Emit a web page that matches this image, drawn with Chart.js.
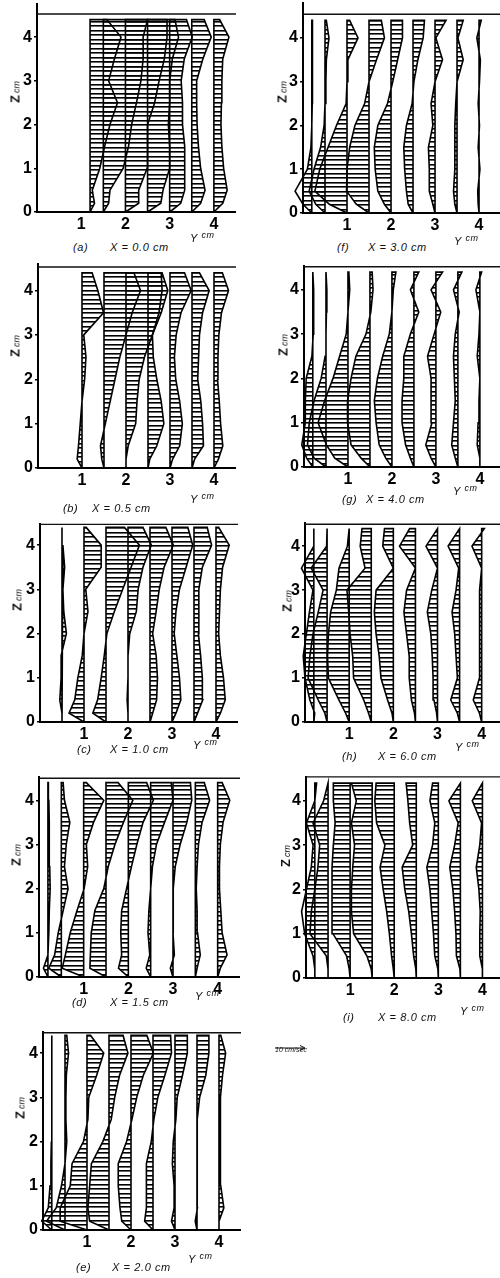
<!DOCTYPE html>
<html><head><meta charset="utf-8">
<script src="https://cdn.jsdelivr.net/npm/chart.js@4.4.1/dist/chart.umd.min.js"></script>
<style>
html,body{margin:0;padding:0;background:#fff;}
body{width:500px;height:1278px;position:relative;overflow:hidden;font-family:'Liberation Sans',Arial,sans-serif;}
canvas{position:absolute;}
.cap{position:absolute;font-style:italic;font-size:11px;color:#111;white-space:nowrap;letter-spacing:0.6px;transform:translateY(-50%);}
.zl{position:absolute;white-space:nowrap;transform:translate(-50%,-50%) rotate(-90deg);color:#111;font-weight:bold;font-size:13px;}
.zl small{font-size:9px;font-weight:normal;font-style:italic;margin-left:2px;}
.leg{position:absolute;font-style:italic;font-size:7px;color:#111;white-space:nowrap;}
</style></head><body>
<script>
// ---- data ----
const zLevels = [0, 0.2, 0.5, 1, 1.5, 2, 2.5, 3, 3.5, 4, 4.4];
const yTicks = [0, 1, 2, 3, 4];
const xTicks = [1, 2, 3, 4];

const stationsA = [1.2, 1.5, 2, 2.5, 3, 3.5, 4];
const uA = [
 [0, 0.10, 0.05, 0.22, 0.33, 0.45, 0.62, 0.42, 0.55, 0.70, 0.38],
 [0, 0.12, 0.15, 0.45, 0.57, 0.64, 0.75, 0.85, 0.90, 0.90, 1.00],
 [0, 0.30, 0.30, 0.49, 0.50, 0.50, 0.66, 0.76, 0.88, 0.94, 0.94],
 [0, 0.30, 0.35, 0.50, 0.50, 0.47, 0.50, 0.50, 0.56, 0.70, 0.62],
 [0, 0.25, 0.34, 0.34, 0.34, 0.29, 0.29, 0.26, 0.33, 0.51, 0.38],
 [0, 0.20, 0.30, 0.20, 0.15, 0.12, 0.11, 0.11, 0.25, 0.44, 0.28],
 [0, 0.20, 0.30, 0.22, 0.18, 0.16, 0.17, 0.18, 0.20, 0.34, 0.13]];

const stationsB = [1, 1.5, 2, 2.5, 3, 3.5, 4];
const uB = [
 [0, -0.11, -0.08, -0.04, 0.00, 0.06, 0.09, 0.04, 0.49, 0.36, 0.23],
 [0, -0.05, -0.08, 0.03, 0.14, 0.25, 0.36, 0.50, 0.64, 0.83, 0.68],
 [0, 0.00, 0.05, 0.22, 0.25, 0.30, 0.42, 0.60, 0.75, 0.82, 0.80],
 [0, 0.04, 0.20, 0.36, 0.30, 0.20, 0.12, 0.10, 0.30, 0.45, 0.32],
 [0, 0.06, 0.22, 0.28, 0.22, 0.13, 0.10, 0.14, 0.25, 0.48, 0.33],
 [0, 0.06, 0.26, 0.24, 0.20, 0.13, 0.15, 0.17, 0.24, 0.39, 0.17],
 [0, 0.10, 0.20, 0.15, 0.12, 0.08, 0.09, 0.11, 0.17, 0.33, 0.19]];

const stationsC = [0.5, 1, 1.5, 2, 2.5, 3, 3.5, 4];
const uC = [
 [0, 0.00, -0.05, -0.02, -0.02, 0.10, 0.04, 0.02, 0.06, 0.02, 0.00],
 [0, -0.34, -0.21, -0.14, -0.04, 0.00, 0.09, 0.04, 0.39, 0.39, 0.05],
 [0, -0.30, -0.19, -0.11, -0.04, 0.02, 0.19, 0.38, 0.57, 0.76, 0.42],
 [0, 0.00, -0.02, 0.00, 0.00, 0.04, 0.19, 0.23, 0.34, 0.53, 0.34],
 [0, 0.06, 0.15, 0.17, 0.14, 0.06, 0.14, 0.21, 0.32, 0.53, 0.36],
 [0, 0.09, 0.20, 0.17, 0.11, 0.05, 0.09, 0.17, 0.32, 0.47, 0.36],
 [0, 0.08, 0.20, 0.19, 0.15, 0.10, 0.11, 0.11, 0.19, 0.40, 0.30],
 [0, 0.10, 0.21, 0.17, 0.10, 0.06, 0.08, 0.10, 0.15, 0.30, 0.06]];

const stationsD = [0.2, 0.5, 1, 1.5, 2, 2.5, 3, 3.5, 4];
const uD = [
 [0, -0.10, 0.00, 0.02, 0.03, 0.05, 0.04, 0.03, 0.03, 0.02, 0.01],
 [0, -0.28, -0.15, -0.07, 0.04, 0.15, 0.07, 0.11, 0.19, 0.07, 0.04],
 [0, -0.48, -0.41, -0.30, -0.15, 0.01, 0.09, 0.06, 0.22, 0.45, 0.06],
 [0, -0.36, -0.35, -0.33, -0.25, -0.05, 0.05, 0.20, 0.39, 0.60, 0.27],
 [0, -0.22, -0.15, -0.17, -0.15, -0.04, 0.07, 0.19, 0.33, 0.56, 0.41],
 [0, -0.10, -0.02, -0.06, -0.04, 0.00, 0.04, 0.13, 0.31, 0.50, 0.46],
 [0, -0.06, 0.03, 0.00, 0.00, 0.01, 0.05, 0.16, 0.31, 0.42, 0.39],
 [0, 0.04, 0.11, 0.05, 0.04, 0.02, 0.04, 0.07, 0.15, 0.32, 0.20],
 [0, 0.06, 0.21, 0.10, 0.07, 0.04, 0.04, 0.06, 0.12, 0.27, 0.10]];

const stationsE = [0.2, 0.5, 1, 1.5, 2, 2.5, 3, 3.5, 4];
const uE = [
 [0, -0.23, -0.08, -0.04, -0.02, -0.01, 0.00, 0.00, 0.00, 0.00, 0.00],
 [0, -0.42, -0.20, -0.08, 0.00, 0.04, 0.02, 0.02, 0.03, 0.08, 0.04],
 [0, -0.61, -0.61, -0.38, -0.34, -0.08, 0.02, 0.04, 0.22, 0.38, 0.08],
 [0, -0.44, -0.48, -0.44, -0.40, -0.14, 0.05, 0.13, 0.24, 0.43, 0.32],
 [0, -0.21, -0.25, -0.29, -0.29, -0.10, 0.02, 0.13, 0.28, 0.51, 0.36],
 [0, -0.19, -0.15, -0.15, -0.15, -0.04, 0.02, 0.11, 0.27, 0.42, 0.40],
 [0, -0.08, -0.02, -0.02, -0.06, -0.04, 0.02, 0.05, 0.17, 0.28, 0.28],
 [0, -0.04, 0.01, 0.00, 0.00, 0.00, 0.02, 0.06, 0.20, 0.27, 0.27],
 [0, 0.00, 0.11, 0.04, 0.03, 0.03, 0.03, 0.04, 0.08, 0.15, 0.04]];

const stationsF = [0.2, 0.5, 1, 1.5, 2, 2.5, 3, 3.5, 4];
const uF = [
 [0, -0.20, -0.38, -0.10, -0.02, 0.00, 0.01, 0.01, 0.01, 0.02, 0.02],
 [0, -0.21, -0.36, -0.25, -0.10, -0.02, 0.00, 0.02, 0.03, 0.09, 0.03],
 [0, -0.40, -0.73, -0.62, -0.43, -0.24, -0.02, 0.00, 0.02, 0.25, 0.06],
 [0, -0.29, -0.51, -0.50, -0.44, -0.32, -0.10, 0.00, 0.17, 0.35, 0.28],
 [0, -0.15, -0.30, -0.36, -0.38, -0.30, -0.08, 0.04, 0.15, 0.26, 0.26],
 [0, -0.11, -0.15, -0.19, -0.21, -0.15, -0.02, 0.02, 0.11, 0.23, 0.26],
 [0, -0.05, -0.13, -0.13, -0.15, -0.05, -0.09, 0.00, 0.17, 0.02, 0.25],
 [0, -0.05, -0.08, -0.05, -0.05, -0.05, -0.03, 0.00, 0.14, 0.02, 0.14],
 [0, -0.02, -0.03, 0.02, -0.02, 0.01, -0.02, 0.01, 0.03, -0.05, 0.05]];

const stationsG = [0.2, 0.5, 1, 1.5, 2, 2.5, 3, 3.5, 4];
const uG = [
 [0, -0.14, -0.25, -0.17, -0.17, -0.15, -0.02, 0.01, 0.02, 0.02, 0.00],
 [0, -0.27, -0.42, -0.38, -0.27, -0.11, -0.02, 0.00, 0.01, 0.02, 0.00],
 [0, -0.30, -0.49, -0.68, -0.53, -0.34, -0.19, -0.04, 0.00, 0.04, 0.02],
 [0, -0.20, -0.43, -0.51, -0.51, -0.43, -0.32, -0.09, 0.02, 0.07, 0.05],
 [0, -0.14, -0.29, -0.36, -0.40, -0.33, -0.21, -0.06, 0.00, 0.03, 0.09],
 [0, -0.08, -0.19, -0.27, -0.27, -0.23, -0.23, -0.08, 0.11, -0.08, 0.11],
 [0, -0.11, -0.23, -0.09, -0.11, -0.11, -0.19, -0.04, 0.11, -0.11, 0.15],
 [0, -0.06, -0.14, -0.10, -0.06, -0.08, -0.10, -0.06, 0.03, -0.10, 0.09],
 [0, 0.00, -0.06, -0.04, -0.02, 0.00, -0.06, -0.02, 0.00, -0.09, 0.04]];

const stationsH = [0.2, 0.5, 1, 1.5, 2, 2.5, 3, 3.5, 4];
const uH = [
 [0, 0.02, -0.09, -0.20, -0.24, -0.17, -0.10, -0.02, -0.28, 0.00, 0.00],
 [0, -0.05, -0.20, -0.43, -0.39, -0.32, -0.20, -0.09, -0.36, -0.01, 0.00],
 [0, -0.08, -0.23, -0.47, -0.49, -0.47, -0.42, -0.29, -0.23, -0.04, 0.00],
 [0, -0.06, -0.17, -0.40, -0.42, -0.48, -0.51, -0.55, -0.14, -0.25, -0.21],
 [0, -0.03, -0.13, -0.28, -0.32, -0.39, -0.43, -0.39, 0.00, -0.24, -0.20],
 [0, -0.02, -0.09, -0.14, -0.14, -0.20, -0.26, -0.20, 0.00, -0.36, -0.13],
 [0, -0.02, -0.08, -0.10, -0.12, -0.15, -0.23, -0.13, 0.00, -0.26, 0.00],
 [0, -0.05, -0.20, -0.05, -0.08, -0.11, -0.17, -0.08, -0.02, -0.26, 0.00],
 [0, -0.05, -0.19, -0.05, -0.05, -0.04, -0.05, -0.05, 0.00, -0.22, 0.06]];

const stationsI = [0.2, 0.5, 1, 1.5, 2, 2.5, 3, 3.5, 4];
const uI = [
 [0, 0.00, -0.04, -0.23, -0.30, -0.19, -0.08, -0.04, -0.19, 0.00, 0.04],
 [0, 0.00, -0.04, -0.41, -0.38, -0.30, -0.23, -0.19, -0.34, -0.10, 0.00],
 [0, -0.02, -0.08, -0.39, -0.41, -0.41, -0.41, -0.38, -0.34, -0.38, -0.38],
 [0, -0.02, -0.12, -0.42, -0.47, -0.47, -0.44, -0.40, -0.47, -0.36, -0.47],
 [0, -0.02, -0.06, -0.11, -0.17, -0.25, -0.32, -0.21, -0.40, -0.44, -0.41],
 [0, -0.01, -0.06, -0.11, -0.17, -0.26, -0.32, -0.08, -0.15, -0.19, -0.23],
 [0, -0.01, -0.08, -0.11, -0.15, -0.19, -0.26, -0.13, -0.08, -0.19, -0.13],
 [0, -0.01, -0.09, -0.10, -0.13, -0.17, -0.24, -0.13, -0.05, -0.26, 0.00],
 [0, 0.00, -0.06, -0.06, -0.05, -0.08, -0.14, -0.06, -0.02, -0.23, 0.00]];

const panelLabels = ['(a)', '(b)', '(c)', '(d)', '(e)', '(f)', '(g)', '(h)', '(i)'];
const panelTitles = ['X = 0.0 cm', 'X = 0.5 cm', 'X = 1.0 cm', 'X = 1.5 cm', 'X = 2.0 cm',
                     'X = 3.0 cm', 'X = 4.0 cm', 'X = 6.0 cm', 'X = 8.0 cm'];
const surfaceZ = [4.53, 4.53, 4.47, 4.5, 4.46, 4.54, 4.52, 4.5, 4.54];

// ---- layout (pixels) ----
const PADL = 32, PADB = 24;
const layout = [
 {x0: 37,    ux: 44.2, y0: 212,   uz: 43.7, ymax: 4.78, right: null, lab: 73, tit: 110, ycm: [190, 237], cy: 247, zx: 15},
 {x0: 37.7,  ux: 44.0, y0: 468.3, uz: 44.4, ymax: 4.62, right: null, lab: 63, tit: 92,  ycm: [190, 498], cy: 508, zx: 15},
 {x0: 40.2,  ux: 44.1, y0: 721.7, uz: 44.2, ymax: 4.50, right: null, lab: 77, tit: 110, ycm: [193, 744], cy: 749, zx: 17},
 {x0: 38.7,  ux: 44.6, y0: 976.7, uz: 44.2, ymax: 4.55, right: null, lab: 72, tit: 110, ycm: [195, 995], cy: 1002, zx: 16},
 {x0: 42.7,  ux: 43.9, y0: 1230,  uz: 44.2, ymax: 4.50, right: null, lab: 76, tit: 112, ycm: [188, 1258], cy: 1267, zx: 20},
 {x0: 302.6, ux: 44.1, y0: 212.3, uz: 43.7, ymax: 4.82, right: 500, lab: 337, tit: 368, ycm: [454, 240], cy: 247, zx: 282},
 {x0: 304.3, ux: 43.9, y0: 466.7, uz: 44.2, ymax: 4.56, right: 500, lab: 342, tit: 366, ycm: [453, 490], cy: 499, zx: 283},
 {x0: 305.3, ux: 44.1, y0: 721.7, uz: 43.9, ymax: 4.55, right: 500, lab: 342, tit: 378, ycm: [455, 746], cy: 756, zx: 287},
 {x0: 305.6, ux: 44.2, y0: 978.3, uz: 44.4, ymax: 4.56, right: 500, lab: 343, tit: 378, ycm: [460, 1010], cy: 1017, zx: 285}
];
const allStations = [stationsA, stationsB, stationsC, stationsD, stationsE, stationsF, stationsG, stationsH, stationsI];
const allU = [uA, uB, uC, uD, uE, uF, uG, uH, uI];

// hatch pattern (horizontal lines)
const pc = document.createElement('canvas');
pc.width = 4; pc.height = 9;
const pctx = pc.getContext('2d');
pctx.fillStyle = '#000'; pctx.fillRect(0, 0, 4, 1); pctx.fillRect(0, 4, 4, 1);
pctx.fillStyle = 'rgba(0,0,0,0.6)'; pctx.fillRect(0, 1, 4, 1); pctx.fillRect(0, 5, 4, 1);
const hatch = pctx.createPattern(pc, 'repeat');

function profileData(s, u) {
  const pts = zLevels.map((z, k) => ({x: s + u[k], y: z}));
  pts.push({x: s, y: zLevels[zLevels.length - 1]});
  pts.push({x: s, y: 0});
  return pts;
}

const tickFont = {family: "'Liberation Sans', Arial, sans-serif", size: 16, weight: 'bold'};

layout.forEach((L, i) => {
  const left = L.x0 - PADL;
  const top = L.y0 - L.ymax * L.uz;
  const plotW = L.right ? (L.right - L.x0) : 4.5 * L.ux;
  const xmax = plotW / L.ux;
  const W = Math.round(PADL + plotW);
  const H = Math.round(L.ymax * L.uz + PADB);
  const cv = document.createElement('canvas');
  cv.width = W; cv.height = H;
  cv.style.left = left + 'px'; cv.style.top = top + 'px';
  cv.style.width = W + 'px'; cv.style.height = H + 'px';
  document.body.appendChild(cv);

  const datasets = [{
    data: [{x: 0, y: surfaceZ[i]}, {x: xmax, y: surfaceZ[i]}],
    showLine: true, fill: false, borderColor: '#111', borderWidth: 1.4, pointRadius: 0
  }];
  allStations[i].forEach((s, k) => {
    datasets.push({
      data: profileData(s, allU[i][k]),
      showLine: true, fill: 'shape', backgroundColor: hatch,
      borderColor: '#000', borderWidth: 1.6, pointRadius: 0, clip: false
    });
  });

  new Chart(cv, {
    type: 'scatter',
    data: {datasets},
    options: {
      responsive: false, animation: false, events: [],
      devicePixelRatio: 1,
      layout: {padding: 0},
      plugins: {legend: {display: false}, tooltip: {enabled: false}},
      elements: {line: {tension: 0}, point: {radius: 0}},
      scales: {
        x: {
          type: 'linear', min: 0, max: xmax,
          afterBuildTicks: s => { s.ticks = xTicks.map(v => ({value: v})); },
          afterFit: s => { s.height = PADB; s.paddingLeft = 0; s.paddingRight = 0; },
          grid: {display: true, drawOnChartArea: false, drawTicks: false},
          border: {display: true, color: '#000', width: 2},
          ticks: {color: '#000', font: tickFont, padding: 3, maxRotation: 0, autoSkip: false}
        },
        y: {
          type: 'linear', min: 0, max: L.ymax,
          afterBuildTicks: s => { s.ticks = yTicks.map(v => ({value: v})); },
          afterFit: s => { s.width = PADL; s.paddingTop = 0; s.paddingBottom = 0; },
          grid: {display: true, drawOnChartArea: false, drawTicks: true, tickLength: 3, color: '#000', lineWidth: 1.5},
          border: {display: true, color: '#000', width: 2},
          ticks: {color: '#000', font: tickFont, padding: 2, autoSkip: false}
        }
      }
    }
  });

  // captions
  const lab = document.createElement('div');
  lab.className = 'cap'; lab.textContent = panelLabels[i];
  lab.style.left = L.lab + 'px'; lab.style.top = L.cy + 'px';
  document.body.appendChild(lab);
  const tit = document.createElement('div');
  tit.className = 'cap'; tit.textContent = panelTitles[i];
  tit.style.left = L.tit + 'px'; tit.style.top = L.cy + 'px';
  document.body.appendChild(tit);
  const yc = document.createElement('div');
  yc.className = 'cap'; yc.innerHTML = 'Y <span style="font-size:9px;vertical-align:4px">cm</span>';
  yc.style.left = L.ycm[0] + 'px'; yc.style.top = L.ycm[1] + 'px';
  document.body.appendChild(yc);
  const zl = document.createElement('div');
  zl.className = 'zl'; zl.innerHTML = 'Z<small>cm</small>';
  zl.style.left = L.zx + 'px'; zl.style.top = (L.y0 - 2.75 * L.uz) + 'px';
  document.body.appendChild(zl);
});

// velocity scale key
const key = document.createElement('div');
key.style.cssText = 'position:absolute;left:274px;top:1038px;';
key.innerHTML = '<svg width="34" height="8"><line x1="1" y1="4" x2="30" y2="4" stroke="#111" stroke-width="1"/><path d="M26,1.5 L31,4 L26,6.5" fill="none" stroke="#111" stroke-width="1"/></svg>';
document.body.appendChild(key);
const keyT = document.createElement('div');
keyT.className = 'leg'; keyT.textContent = '10 cm/sec';
keyT.style.left = '275px'; keyT.style.top = '1046px';
document.body.appendChild(keyT);
</script>
</body></html>
